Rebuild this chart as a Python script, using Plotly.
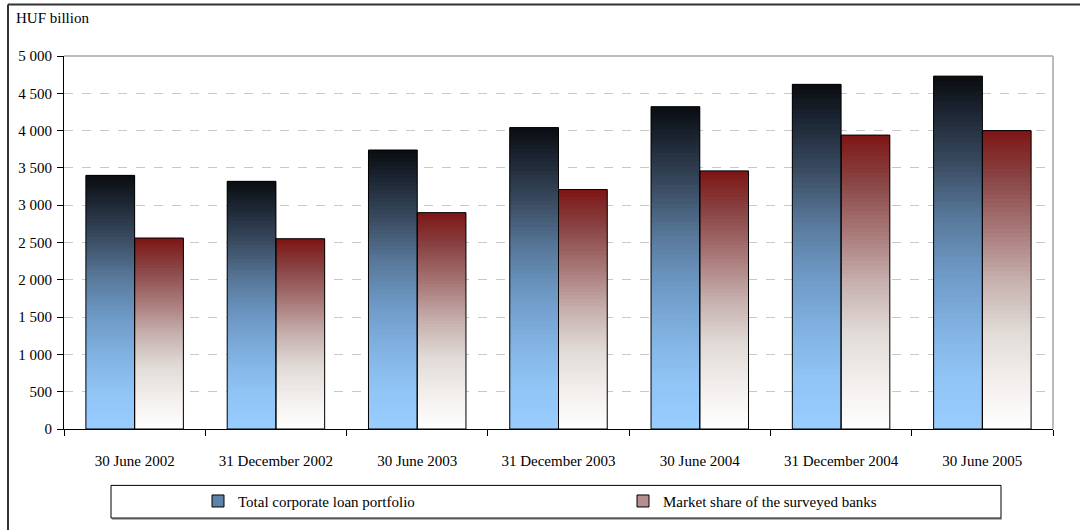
import plotly.graph_objects as go

# ---- data -------------------------------------------------------------
categories = ["30 June 2002", "31 December 2002", "30 June 2003", "31 December 2003",
              "30 June 2004", "31 December 2004", "30 June 2005"]
total_loans = [3400, 3320, 3740, 4040, 4320, 4620, 4730]
surveyed_banks = [2560, 2550, 2900, 3210, 3460, 3940, 4000]

series_names = ["Total corporate loan portfolio", "Market share of the surveyed banks"]
y_tick_values = [0, 500, 1000, 1500, 2000, 2500, 3000, 3500, 4000, 4500, 5000]
y_tick_labels = ["0", "500", "1 000", "1 500", "2 000", "2 500", "3 000",
                 "3 500", "4 000", "4 500", "5 000"]
y_title = "HUF billion"

# ---- page geometry ----------------------------------------------------
W, H = 1080, 530
ML, MR, MT, MB = 64, 27, 56, 97
PW, PH = W - ML - MR, H - MT - MB


def px_x(px):
    return (px - ML) / PW


def px_y(py):
    return (H - MB - py) / PH


# vertical gradients, listed bottom (0) to top (1)
BLUE_STOPS = [(0.0, "#99ccff"), (0.15, "#90c4f5"), (0.30, "#80b0e0"), (0.45, "#6d98c4"),
              (0.60, "#58789a"), (0.75, "#3a4c62"), (0.90, "#1c2532"), (1.0, "#0a0c10")]
RED_STOPS = [(0.0, "#ffffff"), (0.15, "#f4f0ee"), (0.32, "#e2dcd8"), (0.50, "#c6b0ae"),
             (0.67, "#a87878"), (0.84, "#8a4545"), (1.0, "#7d1515")]


def hex_rgb(h):
    h = h.lstrip("#")
    return tuple(int(h[i:i + 2], 16) for i in (0, 2, 4))


def sample(stops, t):
    for (t0, c0), (t1, c1) in zip(stops[:-1], stops[1:]):
        if t <= t1:
            f = (t - t0) / (t1 - t0) if t1 > t0 else 0
            a, b = hex_rgb(c0), hex_rgb(c1)
            r = [round(a[i] + (b[i] - a[i]) * f) for i in range(3)]
            return "rgb(%d,%d,%d)" % tuple(r)
    return "rgb(%d,%d,%d)" % hex_rgb(stops[-1][1])


N_SLICES = 70
fig = go.Figure()


def add_gradient_bars(values, stops, group):
    # each bar is built from thin horizontal slices so that it shades top to bottom;
    # every slice reaches a little into the next one so no seams show between them
    for k in range(N_SLICES):
        color = sample(stops, (k + 0.5) / N_SLICES)
        bases = [v * k / N_SLICES for v in values]
        tops = [min(v * (k + 2) / N_SLICES, v) for v in values]
        fig.add_trace(go.Bar(
            x=categories,
            y=[t - b for t, b in zip(tops, bases)],
            base=bases,
            offsetgroup=group,
            marker=dict(color=color, line=dict(width=0)),
            showlegend=False, hoverinfo="skip",
        ))


def add_outline(values, group, name, swatch):
    fig.add_trace(go.Bar(
        x=categories, y=values, offsetgroup=group, name=name,
        marker=dict(color="rgba(0,0,0,0)", line=dict(color="#000000", width=1)),
        showlegend=False,
        hovertemplate="%{x}<br>%{y}<extra>" + name + "</extra>",
    ))
    # legend entry
    fig.add_trace(go.Bar(
        x=categories, y=[None] * len(categories), offsetgroup=group, name=name,
        marker=dict(color=swatch, line=dict(color="#000000", width=1)),
        showlegend=True, hoverinfo="skip",
    ))


add_gradient_bars(total_loans, BLUE_STOPS, "loans")
add_gradient_bars(surveyed_banks, RED_STOPS, "banks")
add_outline(total_loans, "loans", series_names[0], sample(BLUE_STOPS, 0.55))
add_outline(surveyed_banks, "banks", series_names[1], sample(RED_STOPS, 0.6))

FONT = "Liberation Serif"

shapes = [
    # plot frame (top and right) in light grey
    dict(type="line", xref="paper", yref="paper", x0=0, x1=1, y0=1, y1=1,
         line=dict(color="#a6a6a6", width=1.5), layer="above"),
    dict(type="line", xref="paper", yref="paper", x0=1, x1=1, y0=0, y1=1,
         line=dict(color="#a6a6a6", width=1.5), layer="above"),
    # outer chart border
    dict(type="line", xref="paper", yref="paper", x0=px_x(8), x1=px_x(8), y0=px_y(4), y1=px_y(H + 5),
         line=dict(color="#333333", width=2), layer="above"),
    dict(type="line", xref="paper", yref="paper", x0=px_x(8), x1=px_x(W + 5), y0=px_y(4), y1=px_y(4),
         line=dict(color="#333333", width=2), layer="above"),
    # legend box with a soft shadow underneath
    dict(type="line", xref="paper", yref="paper", x0=px_x(112), x1=px_x(1002), y0=px_y(524), y1=px_y(524),
         line=dict(color="#9a9a9a", width=1.5), layer="above"),
    dict(type="rect", xref="paper", yref="paper", x0=px_x(111), x1=px_x(1001), y0=px_y(523), y1=px_y(490),
         line=dict(color="#000000", width=1), fillcolor="rgba(0,0,0,0)", layer="above"),
]

fig.update_layout(
    width=W, height=H,
    margin=dict(l=ML, r=MR, t=MT, b=MB, pad=0),
    paper_bgcolor="white", plot_bgcolor="white",
    barmode="group", bargap=0.31, bargroupgap=0,
    font=dict(family=FONT, size=15, color="#000000"),
    showlegend=True,
    legend=dict(orientation="h", x=px_x(198), xanchor="left", y=px_y(506), yanchor="middle",
                entrywidth=380, bgcolor="rgba(0,0,0,0)", borderwidth=0,
                font=dict(family=FONT, size=15), traceorder="normal"),
    shapes=shapes,
    annotations=[dict(text=y_title, xref="paper", yref="paper", x=px_x(14), y=px_y(18),
                      xanchor="left", yanchor="middle", showarrow=False,
                      font=dict(family=FONT, size=15))],
)

fig.update_xaxes(
    type="category", tickson="boundaries", ticks="outside", ticklen=6, tickcolor="#000000",
    showline=True, linecolor="#000000", linewidth=1, showgrid=False,
    tickfont=dict(family=FONT, size=15), ticklabelstandoff=18,
)
fig.update_yaxes(
    range=[0, 5000], tickvals=y_tick_values, ticktext=y_tick_labels,
    ticks="outside", ticklen=6, tickcolor="#000000",
    showline=True, linecolor="#000000", linewidth=1,
    showgrid=True, gridcolor="#c8c8c8", griddash="dash", gridwidth=1,
    zeroline=False, tickfont=dict(family=FONT, size=15), ticklabelstandoff=2,
)

fig.write_html("out.html")
